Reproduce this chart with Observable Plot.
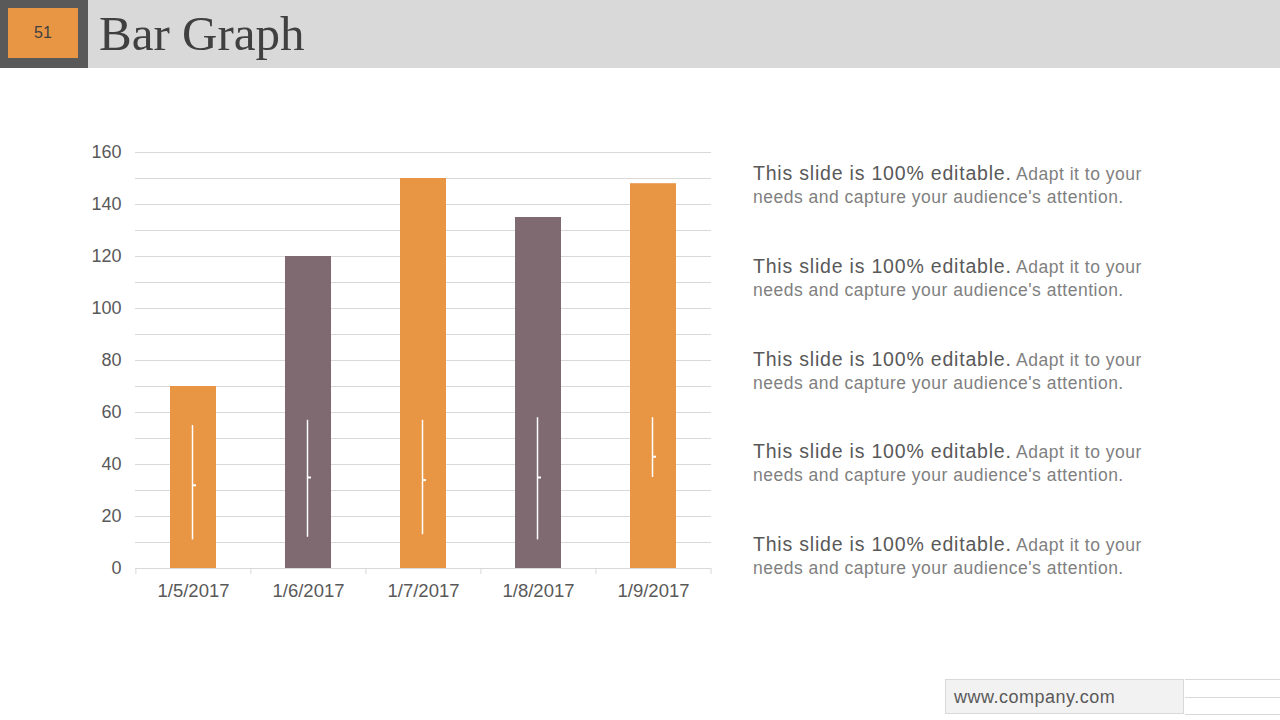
<!DOCTYPE html>
<html><head><meta charset="utf-8">
<script src="https://cdn.jsdelivr.net/npm/d3@7"></script>
<script src="https://cdn.jsdelivr.net/npm/@observablehq/plot@0.6"></script>
<style>
body{margin:0;width:1280px;height:720px;position:relative;background:#fff;font-family:"Liberation Sans",Arial,sans-serif;overflow:hidden}
#hdr{position:absolute;left:0;top:0;width:1280px;height:68px;background:#d9d9d9}
#num{position:absolute;left:0;top:0;width:88px;height:68px;background:#595959}
#numbox{position:absolute;left:8px;top:8px;width:70px;height:50px;background:#e99644;color:#404040;font-size:16px;display:flex;align-items:center;justify-content:center}
#title{position:absolute;left:99px;top:6px;font-family:"Liberation Serif","DejaVu Serif",serif;font-size:49px;color:#404040;line-height:56px}
#chart{position:absolute;left:60px;top:130px}
.blk{position:absolute;left:753px;width:460px;line-height:23px;color:#7f7f7f;font-size:17.5px;letter-spacing:0.5px;white-space:nowrap}
.blk b{font-weight:normal;color:#595959;font-size:19.5px;letter-spacing:0.8px}
#foot{position:absolute;left:945px;top:679px;width:239px;height:35px;background:#f2f2f2;border:1px solid #d9d9d9;font-size:18px;letter-spacing:0.5px;color:#595959;line-height:35px;padding-left:8px;box-sizing:border-box}
.ln{position:absolute;left:1185px;width:95px;height:1px;background:#d9d9d9}
</style></head><body>
<div id="hdr"></div>
<div id="num"><div id="numbox">51</div></div>
<div id="title">Bar Graph</div>
<div id="chart"></div>
<div id="texts"></div>
<div id="foot">www.company.com</div>
<div class="ln" style="top:679px"></div>
<div class="ln" style="top:697px"></div>
<div class="ln" style="top:714px"></div>
<script>
const dates = ["1/5/2017","1/6/2017","1/7/2017","1/8/2017","1/9/2017"];
const values = [70,120,150,135,148];
const highs = [55,57,57,58,58];
const lows = [11,12,13,11,35];
const closes = [32,35,34,35,43];
const yTicks = [0,20,40,60,80,100,120,140,160];
const gridTicks = [0,10,20,30,40,50,60,70,80,90,100,110,120,130,140,150,160];
const blurbBold = "This slide is 100% editable.";
const blurbRest = "Adapt it to your needs and capture your audience's attention.";

const palette = ["#e99644","#7e6a70","#e99644","#7e6a70","#e99644"];
const rows = dates.map((d,i)=>({date:d,value:values[i],high:highs[i],low:lows[i],close:closes[i]}));
const step = 576/5;

const chart = Plot.plot({
  width:670, height:480,
  marginLeft:75, marginRight:19, marginTop:22, marginBottom:42,
  style:{fontFamily:"Liberation Sans, Arial, sans-serif", background:"transparent"},
  x:{domain:dates, paddingInner:0.6, paddingOuter:0.3, label:null},
  y:{domain:[0,160], label:null},
  color:{domain:dates, range:palette},
  marks:[
    Plot.gridY(gridTicks,{stroke:"#d9d9d9", strokeOpacity:1}),
    Plot.axisY({ticks:yTicks, tickSize:0, tickPadding:14, fontSize:18, fill:"#595959", label:null}),
    Plot.axisX({tickSize:0, tickPadding:15, fontSize:18.5, fill:"#595959", label:null}),
    Plot.axisX({ticks:dates, text:null, tickSize:6, stroke:"#d9d9d9", strokeOpacity:1, dx:-step/2, label:null}),
    Plot.axisX({ticks:[dates[dates.length-1]], text:null, tickSize:6, stroke:"#d9d9d9", strokeOpacity:1, dx:step/2, label:null}),
    Plot.barY(rows,{x:"date", y:"value", fill:"date"}),
    Plot.ruleX(rows,{x:"date", y1:"low", y2:"high", stroke:"#ffffff", strokeWidth:1.5, dx:-1}),
    Plot.tickY(rows,{x:"date", y:"close", stroke:"#ffffff", strokeWidth:2, insetLeft:22, insetRight:20})
  ]
});
document.getElementById("chart").appendChild(chart);

const tc = document.getElementById("texts");
[162,255,348,440,533].forEach(top=>{
  const el = document.createElement("div");
  el.className = "blk";
  el.style.top = top + "px";
  el.innerHTML = "<b>"+blurbBold+"</b> " + blurbRest.replace("your needs","your<br>needs");
  tc.appendChild(el);
});
</script>
</body></html>
